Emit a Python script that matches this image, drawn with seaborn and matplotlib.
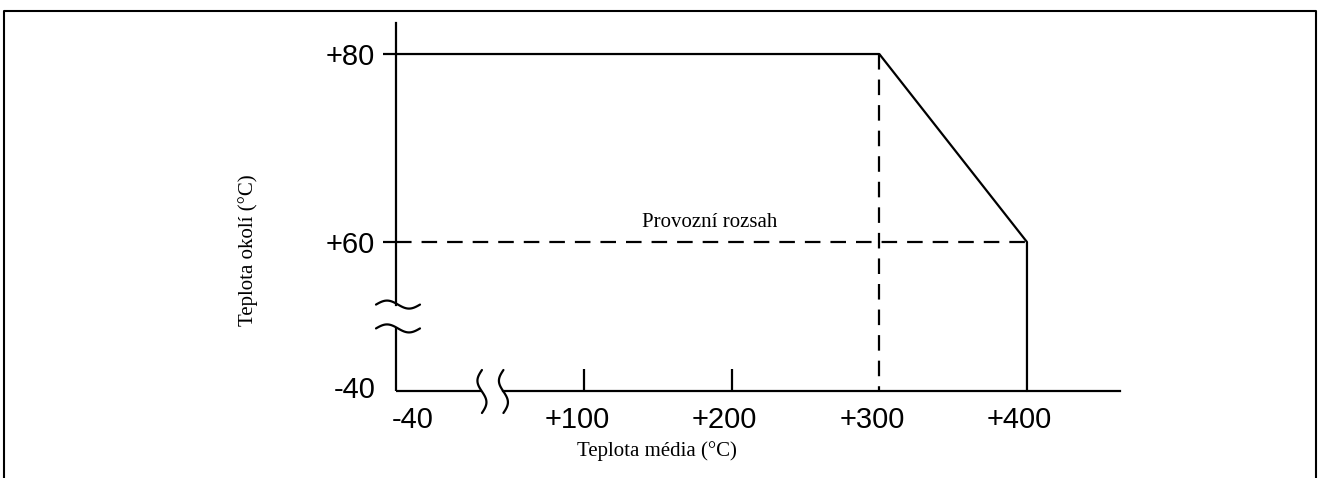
import numpy as np
import matplotlib
matplotlib.use("Agg")
import matplotlib.pyplot as plt
import seaborn as sns
from matplotlib.lines import Line2D
from matplotlib.transforms import IdentityTransform, ScaledTranslation

# ---- data ----
limit_x = [-40, 300, 400, 400]
limit_y = [80, 80, 60, -40]
range_h_x = [-40, 400]
range_h_y = [60, 60]
range_v_x = [300, 300]
range_v_y = [80, -40]
x_ticks = [-40, 100, 200, 300, 400]
x_tick_labels = ["-40", "+100", "+200", "+300", "+400"]
x_tick_marks = [False, True, True, False, False]
y_ticks = [-40, 60, 80]
y_tick_labels = ["-40", "+60", "+80"]
x_break = (24, 40)
y_break = (2, 18)
annotation = "Provozní rozsah"
x_label = "Teplota média (°C)"
y_label = "Teplota okolí (°C)"

sns.set_theme(style="white")
plt.rcParams["font.family"] = ["Liberation Sans", "DejaVu Sans"]

W, H = 1322, 478
fig = plt.figure(figsize=(W / 100, H / 100), dpi=100)
fig.patch.set_facecolor("white")
ax = fig.add_axes([396 / W, (H - 391) / H, (1120 - 396) / W, (391 - 23) / H])
ax.set_facecolor("white")


def xf(v):
    v = np.asarray(v, float)
    return np.where(v <= 100, (v + 40) * 188 / 140, 188 + (v - 100) * 1.4767)


def xi(p):
    p = np.asarray(p, float)
    return np.where(p <= 188, p * 140 / 188 - 40, 100 + (p - 188) / 1.4767)


def yf(v):
    v = np.asarray(v, float)
    return np.where(v <= 60, (v + 40) * 1.49, 149 + (v - 60) * 9.4)


def yi(p):
    p = np.asarray(p, float)
    return np.where(p <= 149, p / 1.49 - 40, 60 + (p - 149) / 9.4)


ax.set_xscale("function", functions=(xf, xi))
ax.set_yscale("function", functions=(yf, yi))
ax.set_xlim(-40, 463)
ax.set_ylim(-40, 83.3)

LW = 1.6
dash = (0, (7, 4.5))
sns.lineplot(x=limit_x, y=limit_y, sort=False, estimator=None, color="black",
             lw=LW, clip_on=False, ax=ax)
sns.lineplot(x=range_h_x, y=range_h_y, sort=False, estimator=None, color="black",
             lw=LW, linestyle=dash, clip_on=False, ax=ax)
sns.lineplot(x=range_v_x, y=range_v_y, sort=False, estimator=None, color="black",
             lw=LW, linestyle=dash, clip_on=False, ax=ax)

# spines with breaks
for s in ["top", "right"]:
    ax.spines[s].set_visible(False)
for s in ["left", "bottom"]:
    ax.spines[s].set_color("black")
    ax.spines[s].set_linewidth(LW)
ax.spines["left"].set_bounds(y_break[1], 83.3)
ax.spines["bottom"].set_bounds(x_break[1], 463)
ax.plot([-40, -40], [-40, y_break[0]], color="black", lw=LW, clip_on=False,
        solid_capstyle="butt")
ax.plot([-40, x_break[0]], [-40, -40], color="black", lw=LW, clip_on=False,
        solid_capstyle="butt")

# ticks
ax.set_xticks(x_ticks)
ax.set_xticklabels(x_tick_labels)
ax.set_yticks(y_ticks)
ax.set_yticklabels(y_tick_labels)
ax.xaxis.set_minor_locator(matplotlib.ticker.NullLocator())
ax.yaxis.set_minor_locator(matplotlib.ticker.NullLocator())
ax.tick_params(axis="x", which="major", direction="in", length=16, width=LW,
               color="black", pad=10.5, labelsize=21, labelcolor="black", bottom=True)
ax.tick_params(axis="y", which="major", direction="out", length=9.5, width=LW,
               color="black", pad=5.5, labelsize=21, labelcolor="black", left=True)
for tk, show in zip(ax.xaxis.get_major_ticks(), x_tick_marks):
    tk.tick1line.set_visible(show)
ax.yaxis.get_major_ticks()[0].tick1line.set_visible(False)

for lab, dx in zip(ax.get_xticklabels(), [17, -7, -7, -7, -8]):
    lab.set_transform(lab.get_transform() + ScaledTranslation(dx / 100, 0, fig.dpi_scale_trans))
ylabs = ax.get_yticklabels()
ylabs[0].set_transform(ylabs[0].get_transform() + ScaledTranslation(0, 4 / 100, fig.dpi_scale_trans))

# axis labels
ax.set_xlabel(x_label, family=["Liberation Serif", "DejaVu Serif"], fontsize=15, color="black")
ax.xaxis.set_label_coords((657 - 396) / 724, (391 - 451) / 368)
ax.xaxis.label.set_va("center")
ax.set_ylabel(y_label, family=["Liberation Serif", "DejaVu Serif"], fontsize=15, color="black")
ax.yaxis.set_label_coords((248 - 396) / 724, (391 - 250) / 368)
ax.yaxis.label.set_va("center")

ax.text(185, 62.1, annotation, ha="center", va="center",
        family=["Liberation Serif", "DejaVu Serif"], fontsize=15, color="black")

# break symbols
t = np.linspace(0, 1, 80)
for yb in y_break:
    px, py = ax.transData.transform((-40, yb))
    fig.add_artist(Line2D(px - 20 + 44 * t, py + 4 * np.sin(2 * np.pi * t),
                          transform=IdentityTransform(), color="black", lw=LW))
for xb in x_break:
    px, py = ax.transData.transform((xb, -40))
    fig.add_artist(Line2D(px - 4.5 * np.sin(2 * np.pi * t), py + 21 - 43 * t,
                          transform=IdentityTransform(), color="black", lw=LW))

# outer frame (left, top, right)
fig.add_artist(Line2D([4, 4, 1316, 1316], [-5, H - 11, H - 11, -5],
                      transform=IdentityTransform(), color="black", lw=1.5))

fig.savefig("out.png", dpi=100, facecolor="white")
